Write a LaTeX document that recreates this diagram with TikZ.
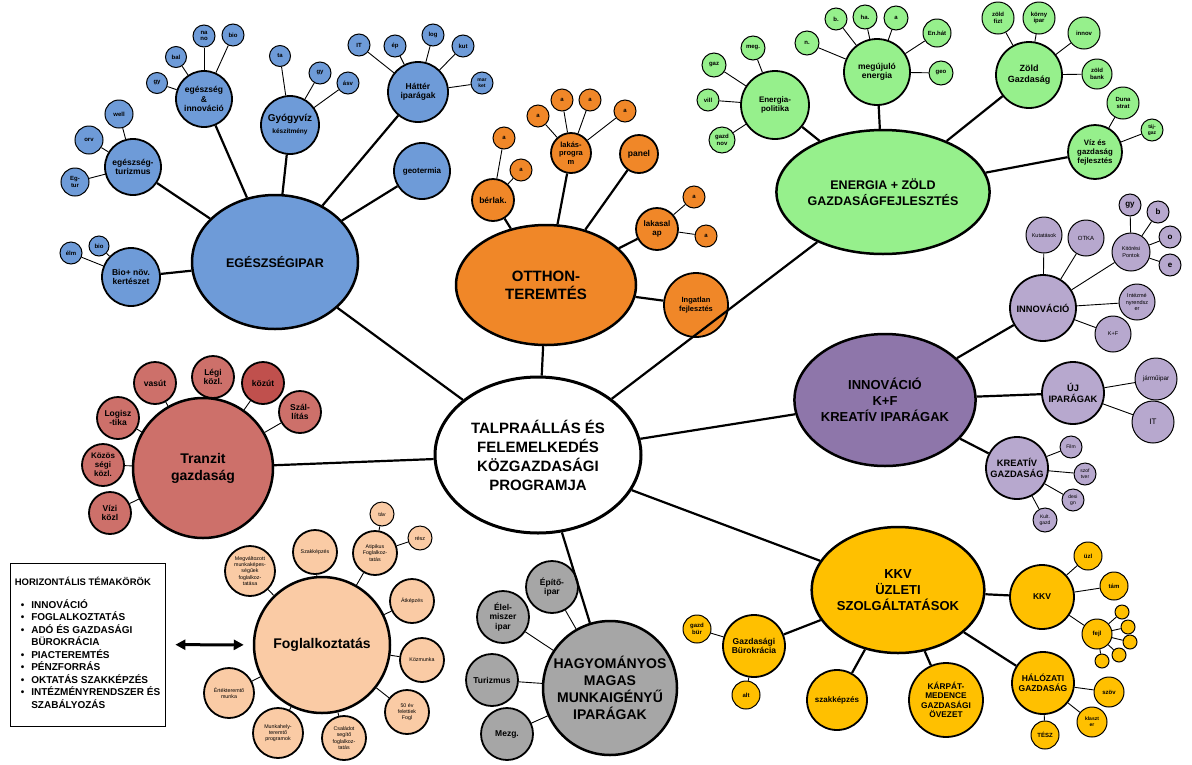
\documentclass[tikz,border=0pt]{standalone}
\usepackage{fontspec}
\setmainfont{Liberation Sans}
\usetikzlibrary{shapes.geometric,arrows.meta}
\definecolor{blu}{RGB}{110,155,216}
\definecolor{orn}{RGB}{240,135,40}
\definecolor{grn}{RGB}{150,240,140}
\definecolor{pur}{RGB}{183,168,206}
\definecolor{purm}{RGB}{142,118,170}
\definecolor{rd}{RGB}{205,112,106}
\definecolor{rdd}{RGB}{192,80,77}
\definecolor{peach}{RGB}{250,203,165}
\definecolor{yel}{RGB}{255,192,0}
\definecolor{gry}{RGB}{166,166,166}

\begin{document}
\begin{tikzpicture}[x=1pt,y=-1pt,
  big/.style={ellipse, draw, line width=2.5pt, inner sep=0pt, align=center, font=\fontsize{13}{15}\selectfont\bfseries},
  mid/.style={circle, draw, line width=1.8pt, inner sep=0pt, align=center, font=\fontsize{8.5}{9.5}\selectfont\bfseries},
  tiny/.style={circle, draw, line width=1pt, inner sep=0pt, align=center, font=\fontsize{6}{6.8}\selectfont\bfseries},
  thin/.style={tiny, font=\fontsize{5.5}{6.5}\selectfont},
  link/.style={line width=2.2pt},
  twig/.style={line width=0.9pt}]
\useasboundingbox (0,0) rectangle (1192,764);

% centre
\node [big, minimum width=206, minimum height=156, line width=3pt, fill=white, font=\fontsize{15}{19}\selectfont\bfseries] (prog) at (538,455) {TALPRAÁLLÁS ÉS\\FELEMELKEDÉS\\KÖZGAZDASÁGI\\PROGRAMJA};

% egeszsegipar
\node [big, fill=blu, minimum width=166, minimum height=134, font=\fontsize{12.5}{15}\selectfont\bfseries] (egip) at (275,262) {EGÉSZSÉGIPAR};
\node [mid, fill=blu, minimum size=58] (bio) at (131,277) {Bio+ növ.\\kertészet};
\node [tiny, fill=blu, minimum size=22] (elm) at (71,253) {élm};
\node [tiny, fill=blu, minimum size=20] (biob) at (99,246) {bio};
\node [mid, fill=blu, minimum size=56] (etur) at (133,167) {egészség-\\turizmus};
\node [tiny, fill=blu, minimum size=28] (egtur) at (75,182) {Eg-\\tur};
\node [tiny, fill=blu, minimum size=28] (orv) at (89,140) {orv};
\node [tiny, fill=blu, minimum size=28] (well) at (119,114) {well};
\node [mid, fill=blu, minimum size=56] (einn) at (204,99) {egészség\\\&\\innováció};
\node [tiny, fill=blu, minimum size=21] (gyb) at (157,83) {gy};
\node [tiny, fill=blu, minimum size=21] (bal) at (176,57) {bal};
\node [tiny, fill=blu, minimum size=22] (nano) at (204,36) {na\\no};
\node [tiny, fill=blu, minimum size=22] (bioc) at (233,35) {bio};
\node [mid, fill=blu, minimum size=58, font=\fontsize{10}{12}\selectfont\bfseries] (gyogy) at (290,125) {Gyógyvíz\\{\fontsize{6.5}{7.5}\selectfont készítmény}};
\node [tiny, fill=blu, minimum size=21] (ta) at (280,56) {ta};
\node [tiny, fill=blu, minimum size=22] (gyc) at (320,73) {gy};
\node [tiny, fill=blu, minimum size=22] (asv) at (348,83) {ásv};
\node [mid, fill=blu, minimum size=60] (hatter) at (418,92) {Háttér\\iparágak};
\node [tiny, fill=blu, minimum size=22] (itb) at (359,45) {IT};
\node [tiny, fill=blu, minimum size=22] (ep) at (395,46) {ép};
\node [tiny, fill=blu, minimum size=22] (log) at (433,35) {log};
\node [tiny, fill=blu, minimum size=22] (kut) at (463,46) {kut};
\node [tiny, fill=blu, minimum size=22, font=\fontsize{5}{5.8}\selectfont\bfseries] (mark) at (482,83) {mar\\ket};
\node [mid, fill=blu, minimum size=56, font=\fontsize{8}{9.5}\selectfont\bfseries] (geo) at (422,171) {geotermia};

\draw [link] (egip) -- (prog);
\draw [link] (egip) -- (bio);
\draw [link] (egip) -- (etur);
\draw [link] (egip) -- (einn);
\draw [link] (egip) -- (gyogy);
\draw [link] (egip) -- (hatter);
\draw [link] (egip) -- (geo);
\draw [twig] (bio) -- (elm);
\draw [twig] (bio) -- (biob);
\draw [twig] (etur) -- (egtur);
\draw [twig] (etur) -- (orv);
\draw [twig] (etur) -- (well);
\draw [twig] (einn) -- (gyb);
\draw [twig] (einn) -- (bal);
\draw [twig] (einn) -- (nano);
\draw [twig] (einn) -- (bioc);
\draw [twig] (gyogy) -- (ta);
\draw [twig] (gyogy) -- (gyc);
\draw [twig] (gyogy) -- (asv);
\draw [twig] (hatter) -- (itb);
\draw [twig] (hatter) -- (ep);
\draw [twig] (hatter) -- (log);
\draw [twig] (hatter) -- (kut);
\draw [twig] (hatter) -- (mark);

% otthonteremtes
\node [big, fill=orn, minimum width=180, minimum height=120, font=\fontsize{15}{18}\selectfont\bfseries] (otthon) at (546,285) {OTTHON-\\TEREMTÉS};
\node [mid, fill=orn, minimum size=42] (berlak) at (493,200) {bérlak.};
\node [tiny, fill=orn, minimum size=22] (oa1) at (504,138) {a};
\node [tiny, fill=orn, minimum size=22] (oa2) at (521,170) {a};
\node [mid, fill=orn, minimum size=40, font=\fontsize{7.5}{8.5}\selectfont\bfseries] (lakp) at (571,153) {lakás-\\progra\\m};
\node [tiny, fill=orn, minimum size=22] (oa3) at (538,116) {a};
\node [tiny, fill=orn, minimum size=22] (oa4) at (562,100) {a};
\node [tiny, fill=orn, minimum size=22] (oa5) at (590,100) {a};
\node [tiny, fill=orn, minimum size=22] (oa6) at (625,111) {a};
\node [mid, fill=orn, minimum size=38] (panel) at (639,154) {panel};
\node [mid, fill=orn, minimum size=42, font=\fontsize{8}{9.5}\selectfont\bfseries] (lakal) at (657,229) {lakasal\\ap};
\node [tiny, fill=orn, minimum size=22] (oa7) at (694,197) {a};
\node [tiny, fill=orn, minimum size=22] (oa8) at (706,236) {a};
\node [mid, fill=orn, minimum size=64, font=\fontsize{7.5}{9}\selectfont\bfseries] (ingat) at (696,305) {Ingatlan\\fejlesztés};

\draw [link] (otthon) -- (prog);
\draw [link] (otthon) -- (berlak);
\draw [link] (otthon) -- (lakp);
\draw [link] (otthon) -- (panel);
\draw [link] (otthon) -- (lakal);
\draw [link] (otthon) -- (ingat);
\draw [twig] (berlak) -- (oa1);
\draw [twig] (berlak) -- (oa2);
\draw [twig] (lakp) -- (oa3);
\draw [twig] (lakp) -- (oa4);
\draw [twig] (lakp) -- (oa5);
\draw [twig] (lakp) -- (oa6);
\draw [twig] (lakal) -- (oa7);
\draw [twig] (lakal) -- (oa8);

% energia + zold
\node [big, fill=grn, minimum width=210, minimum height=124, font=\fontsize{12.5}{15.5}\selectfont\bfseries] (energ) at (883,192) {ENERGIA + ZÖLD\\GAZDASÁGFEJLESZTÉS};
\node [mid, fill=grn, minimum size=68, font=\fontsize{8}{9.5}\selectfont\bfseries] (epol) at (775,105) {Energia-\\politika};
\node [tiny, fill=grn, minimum size=24] (meg) at (753,48) {meg.};
\node [tiny, fill=grn, minimum size=24] (gaz) at (714,65) {gaz};
\node [tiny, fill=grn, minimum size=22] (vill) at (708,100) {vill};
\node [tiny, fill=grn, minimum size=26] (gnov) at (722,140) {gazd\\nov};
\node [mid, fill=grn, minimum size=66] (megu) at (877,72) {megújuló\\energia};
\node [tiny, fill=grn, minimum size=24] (gn) at (807,43) {n.};
\node [tiny, fill=grn, minimum size=22] (gb) at (836,19) {b.};
\node [tiny, fill=grn, minimum size=24] (gha) at (865,17) {ha.};
\node [tiny, fill=grn, minimum size=24] (ga) at (896,18) {a};
\node [tiny, fill=grn, minimum size=28] (enhat) at (937,33) {En.hát};
\node [tiny, fill=grn, minimum size=24] (geog) at (941,73) {geo};
\node [mid, fill=grn, minimum size=66, font=\fontsize{9}{11}\selectfont\bfseries] (zold) at (1029,75) {Zöld\\Gazdaság};
\node [tiny, fill=grn, minimum size=32] (zfizt) at (998,18) {zöld\\fizt};
\node [tiny, fill=grn, minimum size=32] (korny) at (1039,18) {körny\\ipar};
\node [tiny, fill=grn, minimum size=32] (innov) at (1084,33) {innov};
\node [tiny, fill=grn, minimum size=30] (zbank) at (1097,74) {zöld\\bank};
\node [mid, fill=grn, minimum size=54, font=\fontsize{7.8}{9}\selectfont\bfseries] (viz) at (1095,152) {Víz és\\gazdaság\\fejlesztés};
\node [tiny, fill=grn, minimum size=32] (duna) at (1123,103) {Duna\\strat};
\node [tiny, fill=grn, minimum size=22, font=\fontsize{5}{5.8}\selectfont\bfseries] (taj) at (1152,130) {táj-\\gaz};

\draw [link] (energ) -- (prog);
\draw [link] (energ) -- (epol);
\draw [link] (energ) -- (megu);
\draw [link] (energ) -- (zold);
\draw [link] (energ) -- (viz);
\draw [twig] (epol) -- (meg);
\draw [twig] (epol) -- (gaz);
\draw [twig] (epol) -- (vill);
\draw [twig] (epol) -- (gnov);
\draw [twig] (megu) -- (gn);
\draw [twig] (megu) -- (gb);
\draw [twig] (megu) -- (gha);
\draw [twig] (megu) -- (ga);
\draw [twig] (megu) -- (enhat);
\draw [twig] (megu) -- (geog);
\draw [twig] (zold) -- (zfizt);
\draw [twig] (zold) -- (korny);
\draw [twig] (zold) -- (innov);
\draw [twig] (zold) -- (zbank);
\draw [twig] (viz) -- (duna);
\draw [twig] (viz) -- (taj);

% innovacio, k+f
\node [big, fill=purm, minimum width=172, minimum height=132, font=\fontsize{13}{16}\selectfont\bfseries] (inkf) at (885,400) {INNOVÁCIÓ\\K+F\\KREATÍV IPARÁGAK};
\node [mid, fill=pur, minimum size=66, font=\fontsize{9.3}{11}\selectfont\bfseries] (inno) at (1043,308) {INNOVÁCIÓ};
\node [thin, fill=pur, minimum size=36] (kuta) at (1044,235) {Kutatások};
\node [thin, fill=pur, minimum size=36, font=\fontsize{6}{7}\selectfont] (otka) at (1086,238) {OTKA};
\node [thin, fill=pur, minimum size=38] (kitor) at (1131,252) {Kitörési\\Pontok};
\node [tiny, fill=pur, minimum size=22, font=\fontsize{8}{9}\selectfont\bfseries] (pgy) at (1130,205) {gy};
\node [tiny, fill=pur, minimum size=22, font=\fontsize{8}{9}\selectfont\bfseries] (pb) at (1158,212) {b};
\node [tiny, fill=pur, minimum size=22, font=\fontsize{8}{9}\selectfont\bfseries] (po) at (1170,237) {o};
\node [tiny, fill=pur, minimum size=22, font=\fontsize{8}{9}\selectfont\bfseries] (pe) at (1170,265) {e};
\node [thin, fill=pur, minimum size=36] (intez) at (1137,302) {Intézmé\\nyrendsz\\er};
\node [thin, fill=pur, minimum size=36] (kf) at (1113,334) {K+F};
\node [mid, fill=pur, minimum size=62, font=\fontsize{9.3}{11}\selectfont\bfseries] (uj) at (1073,393) {ÚJ\\IPARÁGAK};
\node [thin, fill=pur, minimum size=42, font=\fontsize{6.3}{7}\selectfont] (jarmu) at (1156,379) {járműipar};
\node [thin, fill=pur, minimum size=42, font=\fontsize{8}{9}\selectfont] (itp) at (1153,422) {IT};
\node [mid, fill=pur, minimum size=62, font=\fontsize{9.3}{11}\selectfont\bfseries] (krea) at (1017,468) {KREATÍV\\GAZDASÁG};
\node [thin, fill=pur, minimum size=22, font=\fontsize{5}{6}\selectfont] (film) at (1071,447) {Film};
\node [thin, fill=pur, minimum size=22, font=\fontsize{5}{6}\selectfont] (szoft) at (1085,474) {szof\\tver};
\node [thin, fill=pur, minimum size=22, font=\fontsize{5}{6}\selectfont] (desi) at (1073,500) {desi\\gn};
\node [thin, fill=pur, minimum size=24, font=\fontsize{5}{6}\selectfont] (kult) at (1045,520) {Kult.\\gazd};

\draw [link] (inkf) -- (prog);
\draw [link] (inkf) -- (inno);
\draw [link] (inkf) -- (uj);
\draw [link] (inkf) -- (krea);
\draw [twig] (inno) -- (kuta);
\draw [twig] (inno) -- (otka);
\draw [twig] (inno) -- (kitor);
\draw [twig] (inno) -- (intez);
\draw [twig] (inno) -- (kf);
\draw [twig] (kitor) -- (pgy);
\draw [twig] (kitor) -- (pb);
\draw [twig] (kitor) -- (po);
\draw [twig] (kitor) -- (pe);
\draw [twig] (uj) -- (jarmu);
\draw [twig] (uj) -- (itp);
\draw [twig] (krea) -- (film);
\draw [twig] (krea) -- (szoft);
\draw [twig] (krea) -- (desi);
\draw [twig] (krea) -- (kult);

% kkv, uzleti szolgaltatasok
\node [big, fill=yel, minimum width=168, minimum height=126, font=\fontsize{13}{16}\selectfont\bfseries] (kkvm) at (898,590) {KKV\\ÜZLETI\\SZOLGÁLTATÁSOK};
\node [mid, fill=yel, minimum size=62] (gbur) at (754,646) {Gazdasági\\Bürokrácia};
\node [tiny, fill=yel, minimum size=28] (gzb) at (697,629) {gazd\\bür};
\node [tiny, fill=yel, minimum size=28] (alt) at (746,695) {alt};
\node [mid, fill=yel, minimum size=60, font=\fontsize{8}{9.5}\selectfont\bfseries] (szakk) at (837,700) {szakképzés};
\node [mid, fill=yel, minimum size=74, font=\fontsize{8.3}{9.5}\selectfont\bfseries] (karp) at (946,700) {KÁRPÁT-\\MEDENCE\\GAZDASÁGI\\ÖVEZET};
\node [mid, fill=yel, minimum size=64] (kkv) at (1042,597) {KKV};
\node [tiny, fill=yel, minimum size=28] (uzl) at (1088,556) {üzl};
\node [tiny, fill=yel, minimum size=28] (tam) at (1114,586) {tám};
\node [tiny, fill=yel, minimum size=30] (fejl) at (1097,634) {fejl};
\node [tiny, fill=yel, minimum size=14] (fd1) at (1122,612) {};
\node [tiny, fill=yel, minimum size=14] (fd2) at (1128,627) {};
\node [tiny, fill=yel, minimum size=14] (fd3) at (1130,642) {};
\node [tiny, fill=yel, minimum size=14] (fd4) at (1119,655) {};
\node [tiny, fill=yel, minimum size=14] (fd5) at (1102,661) {};
\node [mid, fill=yel, minimum size=62] (halo) at (1043,683) {HÁLÓZATI\\GAZDASÁG};
\node [tiny, fill=yel, minimum size=30] (szov) at (1109,692) {szöv};
\node [tiny, fill=yel, minimum size=30, font=\fontsize{5}{6}\selectfont\bfseries] (klasz) at (1092,722) {klaszt\\er};
\node [tiny, fill=yel, minimum size=28] (tesz) at (1045,735) {TÉSZ};

\draw [link] (kkvm) -- (prog);
\draw [link] (kkvm) -- (gbur);
\draw [link] (kkvm) -- (szakk);
\draw [link] (kkvm) -- (karp);
\draw [link] (kkvm) -- (kkv);
\draw [link] (kkvm) -- (halo);
\draw [twig] (gbur) -- (gzb);
\draw [twig] (gbur) -- (alt);
\draw [twig] (kkv) -- (uzl);
\draw [twig] (kkv) -- (tam);
\draw [twig] (kkv) -- (fejl);
\draw [twig] (fejl) -- (fd1);
\draw [twig] (fejl) -- (fd2);
\draw [twig] (fejl) -- (fd3);
\draw [twig] (fejl) -- (fd4);
\draw [twig] (fejl) -- (fd5);
\draw [twig] (halo) -- (szov);
\draw [twig] (halo) -- (klasz);
\draw [twig] (halo) -- (tesz);

% hagyomanyos iparagak
\node [big, circle, fill=gry, minimum size=134, font=\fontsize{14}{17}\selectfont\bfseries] (hagy) at (610,688) {HAGYOMÁNYOS\\MAGAS\\MUNKAIGÉNYŰ\\IPARÁGAK};
\node [mid, fill=gry, minimum size=52] (epit) at (552,587) {Építő-\\ipar};
\node [mid, fill=gry, minimum size=52] (elel) at (503,617) {Élel-\\miszer\\ipar};
\node [mid, fill=gry, minimum size=52] (turi) at (492,680) {Turizmus};
\node [mid, fill=gry, minimum size=52] (mezg) at (507,734) {Mezg.};

\draw [link] (hagy) -- (prog);
\draw [twig] (hagy) -- (epit);
\draw [twig] (hagy) -- (elel);
\draw [twig] (hagy) -- (turi);
\draw [twig] (hagy) -- (mezg);

% tranzit
\node [big, circle, fill=rd, minimum size=140, font=\fontsize{14}{17}\selectfont\bfseries] (tranz) at (203,468) {Tranzit\\gazdaság};
\node [mid, fill=rd, minimum size=42] (vasut) at (155,383) {vasút};
\node [mid, fill=rd, minimum size=42] (legi) at (213,377) {Légi\\közl.};
\node [mid, fill=rdd, minimum size=42] (kozut) at (263,383) {közút};
\node [mid, fill=rd, minimum size=42] (szall) at (300,412) {Szál-\\lítás};
\node [mid, fill=rd, minimum size=42] (logi) at (118,418) {Logisz\\-tika};
\node [mid, fill=rd, minimum size=42, font=\fontsize{8}{9}\selectfont\bfseries] (kozos) at (103,465) {Közös\\ségi\\közl.};
\node [mid, fill=rd, minimum size=42] (vizi) at (110,513) {Vízi\\közl};

\draw [link] (tranz) -- (prog);
\draw [twig] (tranz) -- (vasut);
\draw [twig] (tranz) -- (legi);
\draw [twig] (tranz) -- (kozut);
\draw [twig] (tranz) -- (szall);
\draw [twig] (tranz) -- (logi);
\draw [twig] (tranz) -- (kozos);
\draw [twig] (tranz) -- (vizi);

% foglalkoztatas
\node [big, circle, fill=peach, minimum size=136, font=\fontsize{14}{17}\selectfont\bfseries] (fogl) at (322,645) {Foglalkoztatás};
\node [thin, fill=peach, minimum size=24] (tav) at (382,514) {táv};
\node [thin, fill=peach, minimum size=24] (resz) at (420,538) {rész};
\node [mid, fill=peach, minimum size=44, font=\fontsize{5.3}{6.3}\selectfont] (atip) at (375,553) {Atipikus\\Foglalkoz-\\tatás};
\node [mid, fill=peach, minimum size=44, font=\fontsize{5.3}{6.3}\selectfont] (szakf) at (315,552) {Szakképzés};
\node [mid, fill=peach, minimum size=50, font=\fontsize{5.3}{6.3}\selectfont] (megv) at (250,571) {Megváltozott\\munkaképes-\\ségűek\\foglalkoz-\\tatása};
\node [mid, fill=peach, minimum size=44, font=\fontsize{5.3}{6.3}\selectfont] (atk) at (412,601) {Átképzés};
\node [mid, fill=peach, minimum size=44, font=\fontsize{5.3}{6.3}\selectfont] (kozm) at (422,660) {Közmunka};
\node [mid, fill=peach, minimum size=44, font=\fontsize{5.3}{6.3}\selectfont] (otven) at (407,712) {50 év\\felettiek\\Fogl};
\node [mid, fill=peach, minimum size=44, font=\fontsize{5.3}{6.3}\selectfont] (csal) at (344,738) {Családot\\segítő\\foglalkoz-\\tatás};
\node [mid, fill=peach, minimum size=50, font=\fontsize{5.3}{6.3}\selectfont] (munk) at (278,733) {Munkahely-\\teremtő\\programok};
\node [mid, fill=peach, minimum size=50, font=\fontsize{5.3}{6.3}\selectfont] (ertek) at (229,693) {Értékteremtő\\munka};

\draw [twig] (fogl) -- (atip);
\draw [twig] (fogl) -- (szakf);
\draw [twig] (fogl) -- (megv);
\draw [twig] (fogl) -- (atk);
\draw [twig] (fogl) -- (kozm);
\draw [twig] (fogl) -- (otven);
\draw [twig] (fogl) -- (csal);
\draw [twig] (fogl) -- (munk);
\draw [twig] (fogl) -- (ertek);
\draw [twig] (atip) -- (tav);
\draw [twig] (atip) -- (resz);

% horizontalis temakorok
\node [draw, line width=0.8pt, minimum width=155, minimum height=163, inner sep=0pt, font=\fontsize{10}{12}\selectfont\bfseries] (tema) at (87.5,644.5) {%
  \begin{tabular}{@{\hspace{6pt}}l@{\hspace{7pt}}l@{}}
  \multicolumn{2}{@{}l@{}}{\fontsize{9.5}{12}\selectfont HORIZONTÁLIS TÉMAKÖRÖK}\\[10pt]
  \textbullet & INNOVÁCIÓ\\
  \textbullet & FOGLALKOZTATÁS\\
  \textbullet & ADÓ ÉS GAZDASÁGI\\
   & BÜROKRÁCIA\\
  \textbullet & PIACTEREMTÉS\\
  \textbullet & PÉNZFORRÁS\\
  \textbullet & OKTATÁS SZAKKÉPZÉS\\
  \textbullet & INTÉZMÉNYRENDSZER ÉS\\
   & SZABÁLYOZÁS
  \end{tabular}};
\draw [line width=3pt, {Triangle[length=10pt,width=10pt]}-{Triangle[length=10pt,width=10pt]}, shorten <=10pt, shorten >=9pt] (tema) -- (fogl);
\end{tikzpicture}
\end{document}
